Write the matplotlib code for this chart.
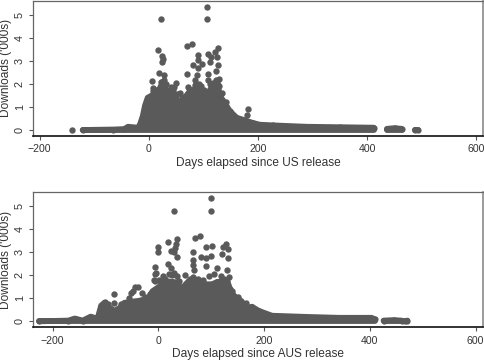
#!/usr/bin/env python
"""Downloads per day against days since release, US and AUS panels."""
import matplotlib
matplotlib.use("Agg")
import matplotlib.pyplot as plt

# upper edge of the solid mass of points (day, thousands of downloads)
us_env_days = [-121, -65, -45, -38, -20, -16, -11, -7, -2, 8, 17, 26, 35, 41, 48, 57, 66, 75, 88,
               97, 108, 117, 126, 131, 139, 148, 161, 172, 190, 203, 227, 289, 350, 412]
us_env_top = [0.0, 0.02, 0.04, 0.14, 0.1, 0.24, 0.6, 1.05, 1.4, 1.53, 1.65, 2.1, 1.55, 1.6, 1.4, 1.2, 1.4,
              1.68, 1.83, 1.75, 1.6, 1.8, 1.95, 1.45, 1.18, 0.83, 0.53, 0.45, 0.31, 0.23, 0.2, 0.14, 0.12, 0.1]
us_gap_days = [436, 450, 463]
us_gap_top = [0.05, 0.08, 0.05]
us_end_days = [488, 493]
us_end_top = [0.0, 0.0]
us_out_days = [-140, 22, 107, 107, 17.7, 25, 26, 24.4, 18, 5.5, 28, 7, 50.6, 41.5, 57, 69.6, 79, 90, 89.5, 80.6,
               97.6, 69.6, 90, 88, 84, 72, 126, 121.3, 108.6, 114.8, 111.7, 125, 126, 122.7, 109.3, 109.3,
               122.7, 181, 180,
               8, 14, 22, 28, 31, 36, 44, 47, 52, 60, 75, 84, 92, 96, 102, 112, 112, 118, 125, 128, 128, 134, 142]
us_out_vals = [0.0, 4.82, 5.34, 4.82, 3.46, 3.2, 3.1, 2.96, 2.48, 2.12, 2.38, 1.82, 2.03, 1.85, 1.6, 3.63, 3.74,
               3.25, 3.03, 2.81, 2.86, 2.44, 2.68, 2.38, 2.16, 1.86, 3.56, 3.39, 3.29, 3.17, 2.96, 3.17, 2.81,
               2.57, 2.42, 2.16, 2.19, 0.91, 0.65,
               1.7, 1.75, 2.1, 2.15, 2.0, 1.7, 1.75, 1.85, 1.55, 1.45, 1.75, 1.95, 2.0, 1.9, 1.75, 2.0, 1.8, 2.05,
               2.1, 1.9, 2.2, 1.6, 1.2]

aus_env_days = [-225, -170, -158, -143, -128, -115, -108, -102, -92, -83, -73, -64, -49, -32, -20, -11, 2, 8, 21,
                36, 43, 58, 71, 83, 102, 111, 130, 136, 143, 156, 168, 177, 190, 215, 278, 341, 403, 410]
aus_env_top = [0.0, 0.03, 0.12, 0.03, 0.2, 0.11, 0.68, 0.8, 0.58, 0.45, 0.58, 0.8, 0.85, 0.9, 0.95, 1.3, 1.5, 1.68,
               1.72, 1.68, 1.38, 1.75, 1.8, 1.6, 1.6, 1.7, 1.75, 1.38, 1.1, 0.88, 0.58, 0.63, 0.45, 0.24, 0.19,
               0.15, 0.15, 0.08]
aus_gap_days = [426, 445, 460]
aus_gap_top = [0.03, 0.05, 0.03]
aus_end_days = [466, 471]
aus_end_top = [0.0, 0.03]
aus_out_days = [30, 99, 100, 17.5, 34.5, 33.5, -1, -0.5, 24, 30, 36, 32, 70, 79, 91, 102, 65, 81.6, 91, 99, 65, 66,
                67, 91, 111, 127.5, 122, 132, 121, 132, 130, -6, 19, 24, 30, 50, -4, -7.5, -83.5, -83.5, -45,
                -51.5, -39, -31, -7, -5.6,
                2, 8, 12, 20, 25, 35, 40, 52, 60, 65, 75, 85, 95, 105, 118, 125, 133, 140, 150, 165,
                -100, -95, -70, -55, -48, -25, -15]
aus_out_vals = [4.79, 5.35, 4.79, 3.45, 3.56, 3.35, 3.2, 3.01, 3.04, 3.0, 2.8, 3.17, 3.59, 3.71, 3.23, 3.27, 2.98,
                2.8, 2.73, 2.84, 2.65, 2.44, 2.22, 2.39, 2.3, 3.33, 3.2, 3.11, 2.9, 2.73, 2.22, 2.37, 2.48, 2.3,
                2.1, 2.0, 2.09, 1.79, 1.17, 0.79, 1.5, 1.24, 1.5, 1.22, 2.05, 1.76,
                1.8, 1.95, 1.85, 2.05, 2.0, 1.95, 1.75, 1.6, 1.85, 1.9, 1.85, 1.8, 1.95, 2.05, 1.95, 1.85, 1.9, 1.3,
                1.05, 0.8, 0.85, 0.75, 0.75, 1.0, 1.3, 1.05, 1.2]

x_ticks = [-200, 0, 200, 400, 600]
y_ticks = [0, 1, 2, 3, 4, 5]

DARK = "#5a5a5a"
W, H = 485, 360
plt.rcParams["font.family"] = ["Liberation Sans", "DejaVu Sans"]


def panel(fig, top, bottom, xlim, ylim, parts, out_days, out_vals, xlabel):
    ax = fig.add_axes([33 / W, 1 - bottom / H, 450 / W, (bottom - top) / H])
    for days, tops in parts:
        # stroke as wide as one marker, so the mass keeps the rounded edge of the dots
        ax.fill_between(days, 0, tops, color=DARK, lw=0, zorder=2)
        ax.plot(days, tops, color=DARK, lw=4.2, solid_capstyle="round", solid_joinstyle="round", zorder=3)
        ax.plot([days[0], days[-1]], [0, 0], color=DARK, lw=4.2, solid_capstyle="round", zorder=3)
        ax.scatter(days, tops, s=20, color=DARK, lw=0, zorder=3)
    ax.scatter(out_days, out_vals, s=21, color=DARK, lw=0, zorder=3)
    ax.set_xlim(*xlim)
    ax.set_ylim(*ylim)
    ax.set_xticks(x_ticks)
    ax.set_yticks(y_ticks)
    ax.tick_params(axis="x", length=3, width=0.8, color="#555555", labelsize=7.6, labelcolor="#333333", pad=3)
    ax.tick_params(axis="y", length=3, width=0.8, color="#555555", labelsize=7.8, labelcolor="#333333", pad=3,
                   labelrotation=90)
    for lab in ax.get_yticklabels():
        lab.set_va("center")
    for side in ("left", "top"):
        ax.spines[side].set_color("#666666")
        ax.spines[side].set_linewidth(0.9)
    ax.spines["right"].set_color("#8a8a8a")
    ax.spines["right"].set_linewidth(1.2)
    ax.spines["bottom"].set_color("#111111")
    ax.spines["bottom"].set_linewidth(1.2)
    ax.set_xlabel(xlabel, fontsize=8.6, color="#333333")
    ax.set_ylabel("Downloads ('000s)", fontsize=8.6, color="#333333")
    ax.xaxis.set_label_coords(0.5, -0.155)
    ax.yaxis.set_label_coords(-0.046, 0.5)
    return ax


fig = plt.figure(figsize=(W / 100, H / 100), dpi=100)
panel(fig, 0.5, 136, (-212, 612), (-0.26, 5.62),
      [(us_env_days, us_env_top), (us_gap_days, us_gap_top), (us_end_days, us_end_top)],
      us_out_days, us_out_vals, "Days elapsed since US release")
panel(fig, 192.3, 327.3, (-237, 614), (-0.26, 5.58),
      [(aus_env_days, aus_env_top), (aus_gap_days, aus_gap_top), (aus_end_days, aus_end_top)],
      aus_out_days, aus_out_vals, "Days elapsed since AUS release")
fig.savefig("out.png", dpi=100)
